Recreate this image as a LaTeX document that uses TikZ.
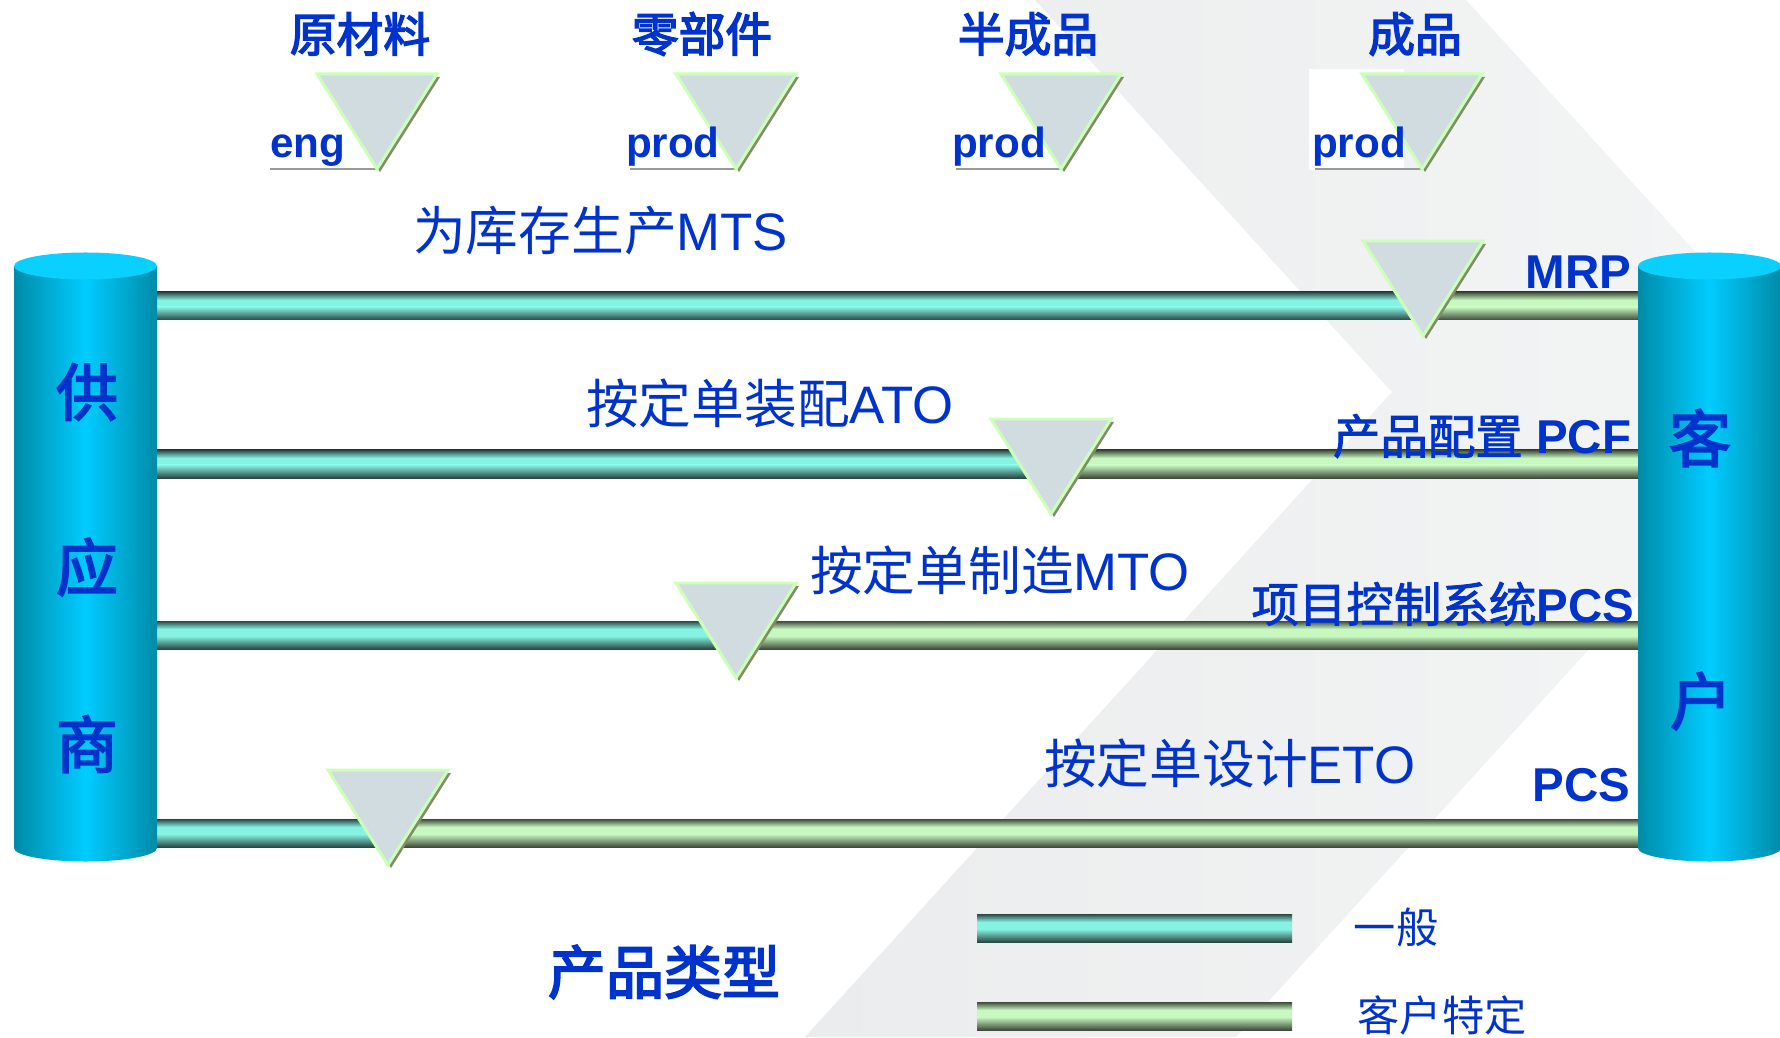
\documentclass[tikz,border=0pt]{standalone}
\usepackage{fontspec}
\setmainfont{Liberation Sans}
\newfontfamily\cjk{Noto Sans CJK SC}
\newfontfamily\cjkmed{Noto Sans CJK SC}[FakeBold=3.2]
\newfontfamily\cjksemi{Noto Sans CJK SC}[FakeBold=1.8]
\definecolor{txtBlue}{HTML}{0033CC}
\definecolor{bgA}{HTML}{EBECED}
\definecolor{bgB}{HTML}{F4F5F5}
\definecolor{tealDark}{HTML}{2A4744}
\definecolor{tealLight}{HTML}{86F2E2}
\definecolor{greenDark}{HTML}{3F4A3A}
\definecolor{greenLight}{HTML}{C6F8C0}
\definecolor{cylEdge}{HTML}{008BA8}
\definecolor{cylMid}{HTML}{00CCFF}
\definecolor{cylTop}{HTML}{0AD0FF}
\definecolor{triFill}{HTML}{D1DCE1}
\definecolor{triEdge}{HTML}{CCFFB8}
\definecolor{triShadow}{HTML}{7E8E68}
\definecolor{ulGray}{HTML}{9A9A9A}
\newcommand\fLab{\fontsize{13.3pt}{14pt}\selectfont\cjkmed}
\newcommand\fBig{\fontsize{17.6pt}{18pt}\selectfont\cjkmed}
\newcommand\fMode{\fontsize{15pt}{16pt}\selectfont}
\newcommand\fSys{\fontsize{13.5pt}{14pt}\selectfont\bfseries}
\newcommand\fTag{\fontsize{12pt}{13pt}\selectfont\bfseries}
\newcommand\fLeg{\fontsize{12pt}{13pt}\selectfont\cjk}
\newcommand\fType{\fontsize{16.5pt}{17pt}\selectfont\cjkmed}
\tikzset{
  lbl/.style={text=txtBlue, inner sep=0pt, outer sep=0pt},
}
% rod band: #1 = top y, #2 = x from, #3 = x to, #4 dark, #5 light
\newcommand\myband[5]{%
  \shade[top color=#4, bottom color=#5] (#2,#1) rectangle (#3,{#1+8});
  \fill[#5] (#2,{#1+8}) rectangle (#3,{#1+15});
  \shade[top color=#5, bottom color=#4] (#2,{#1+15}) rectangle (#3,{#1+28});
}
% rod: #1 = top y, #2 = split x
\newcommand\myrod[2]{%
  \myband{#1}{157}{#2}{tealDark}{tealLight}
  \myband{#1}{#2}{1638}{greenDark}{greenLight}
}
% triangle with tip at (#1,#2)
\newcommand\mytri[2]{%
  \begin{scope}[shift={(#1,#2)}]
    \fill[triShadow] (-57,-92) -- (63,-92) -- (3,3) -- cycle;
    \filldraw[fill=triFill, draw=triEdge, line width=0.85pt, line join=miter]
      (-60,-95) -- (60,-95) -- (0,0) -- cycle;
  \end{scope}
}
% cylinder centred at x=#1
\newcommand\mycyl[1]{%
  \shade[left color=cylEdge, right color=cylEdge, middle color=cylMid]
    ({#1-71.5},266) -- ({#1-71.5},848)
    arc[start angle=180, end angle=0, x radius=71.5, y radius=13.5]
    -- ({#1+71.5},266) -- cycle;
  \fill[cylTop] (#1,266) ellipse [x radius=71.5, y radius=13.5];
}
\begin{document}
\begin{tikzpicture}[x=0.01cm,y=-0.01cm]
\useasboundingbox (0,0) rectangle (1780,1037);
\clip (0,0) rectangle (1780,1037);
\fill[white] (0,0) rectangle (1780,1037);

% background chevron
\shade[left color=bgA, right color=bgB]
  (1035,0) -- (1392,392) -- (805,1037) -- (1236,1037) -- (1823,392) -- (1466,0) -- cycle;

% white box behind last prod
\fill[white] (1309,69) rectangle (1404,170);

% rods
\myrod{292}{1423}
\myrod{450}{1051}
\myrod{621}{736}
\myrod{819}{388}

% cylinders
\mycyl{85.5}
\mycyl{1709.5}

% legend bars
\myband{914}{977}{1292}{tealDark}{tealLight}
\myband{1002}{977}{1292}{greenDark}{greenLight}

% underlines
\draw[ulGray, line width=0.75pt] (270,169) -- (377,169);
\draw[ulGray, line width=0.75pt] (630,169) -- (736,169);
\draw[ulGray, line width=0.75pt] (956,169) -- (1061,169);
\draw[ulGray, line width=0.75pt] (1315,169) -- (1422,169);

% triangles top row
\mytri{377}{169}
\mytri{736}{169}
\mytri{1061}{169}
\mytri{1422}{169}
% triangles on rods
\mytri{1423}{336}
\mytri{1051}{514}
\mytri{736}{678}
\mytri{388}{865}

% top labels
\node[lbl, font=\fLab] (raw) at (360,34) {原材料};
\node[lbl, font=\fLab] (part) at (702,34) {零部件};
\node[lbl, font=\fLab] (semi) at (1028,34) {半成品};
\node[lbl, font=\fLab] (fin) at (1415,34) {成品};

\node[lbl, font=\fTag, anchor=base west] (eng) at (270,158) {eng};
\node[lbl, font=\fTag, anchor=base west] (prodA) at (626,158) {prod};
\node[lbl, font=\fTag, anchor=base west] (prodB) at (952,158) {prod};
\node[lbl, font=\fTag, anchor=base west] (prodC) at (1312,158) {prod};

% mode labels
\node[lbl, font=\fMode, anchor=base west] (mts) at (413,251) {{\cjk 为库存生产}MTS};
\node[lbl, font=\fMode, anchor=base west] (ato) at (586,423) {{\cjk 按定单装配}ATO};
\node[lbl, font=\fMode, anchor=base west] (mto) at (810,590) {{\cjk 按定单制造}MTO};
\node[lbl, font=\fMode, anchor=base west] (eto) at (1044,783) {{\cjk 按定单设计}ETO};

% system labels
\node[lbl, font=\fSys, anchor=base east] (mrp) at (1631,289) {MRP};
\node[lbl, font=\fSys, anchor=base east] (pcf) at (1631,454) {{\cjksemi\mdseries 产品配置} PCF};
\node[lbl, font=\fSys, anchor=base east] (pcsA) at (1634,622) {{\cjksemi\mdseries 项目控制系统}PCS};
\node[lbl, font=\fSys, anchor=base east] (pcsB) at (1630,801) {PCS};

% cylinder texts
\node[lbl, font=\fBig] (gong) at (87,392) {供};
\node[lbl, font=\fBig] (ying) at (87,567) {应};
\node[lbl, font=\fBig] (shang) at (87,744) {商};
\node[lbl, font=\fBig] (ke) at (1700,438) {客};
\node[lbl, font=\fBig] (hu) at (1701,701) {户};

% legend
\node[lbl, font=\fType] (ptype) at (664,972) {产品类型};
\node[lbl, font=\fLeg] (gen) at (1396,927) {一般};
\node[lbl, font=\fLeg] (cust) at (1442,1015) {客户特定};
\end{tikzpicture}
\end{document}
